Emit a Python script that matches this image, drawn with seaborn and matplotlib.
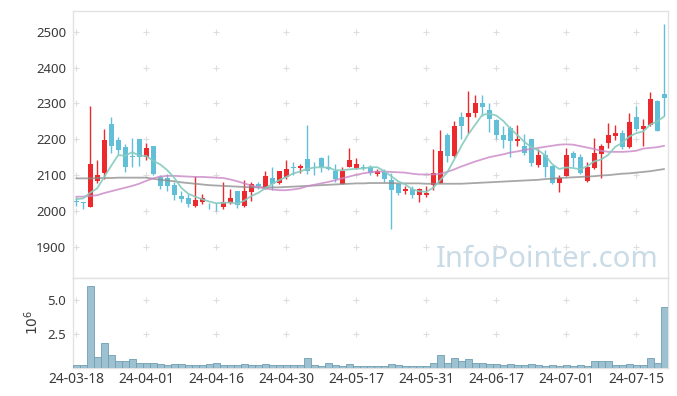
import matplotlib
matplotlib.use("Agg")
import matplotlib.pyplot as plt
import seaborn as sns
import numpy as np
import pandas as pd

# daily candles (trading-day index 0..84)
opens = [2027, 2025, 2010, 2085, 2105, 2242, 2198, 2178, 2153, 2200,
         2150, 2181, 2095, 2092, 2072, 2042, 2036, 2015, 2024, 2015,
         2011, 2010, 2021, 2056, 2015, 2054, 2075, 2060, 2092, 2079,
         2094, 2123, 2120, 2146, 2132, 2147, 2122, 2111, 2074, 2123,
         2120, 2123, 2122, 2104, 2110, 2086, 2076, 2055, 2061, 2045,
         2045, 2072, 2079, 2212, 2154, 2263, 2261, 2272, 2302, 2281,
         2255, 2212, 2232, 2196, 2182, 2200, 2128, 2156, 2125, 2079,
         2097, 2162, 2150, 2084, 2121, 2160, 2190, 2210, 2218, 2179,
         2263, 2228, 2241, 2306, 2326]
closes = [2024, 2021, 2130, 2100, 2198, 2180, 2171, 2122, 2150, 2150,
          2175, 2104, 2071, 2071, 2045, 2034, 2020, 2030, 2035, 2013,
          2010, 2025, 2036, 2016, 2056, 2074, 2070, 2099, 2076, 2111,
          2117, 2121, 2126, 2112, 2130, 2122, 2116, 2089, 2111, 2142,
          2131, 2121, 2105, 2112, 2089, 2059, 2049, 2062, 2045, 2060,
          2051, 2106, 2167, 2154, 2237, 2236, 2273, 2302, 2291, 2256,
          2211, 2198, 2195, 2202, 2161, 2135, 2156, 2123, 2079, 2093,
          2156, 2148, 2105, 2122, 2161, 2182, 2212, 2218, 2178, 2248,
          2229, 2237, 2312, 2224, 2316]
highs = [2040, 2026, 2292, 2141, 2230, 2262, 2206, 2186, 2205, 2200,
         2191, 2181, 2100, 2103, 2082, 2056, 2046, 2099, 2048, 2023,
         2022, 2080, 2061, 2056, 2086, 2082, 2081, 2111, 2122, 2112,
         2141, 2137, 2131, 2241, 2137, 2152, 2156, 2131, 2124, 2175,
         2149, 2130, 2127, 2117, 2116, 2105, 2078, 2070, 2070, 2065,
         2071, 2172, 2226, 2218, 2250, 2275, 2336, 2323, 2325, 2300,
         2258, 2236, 2236, 2241, 2215, 2201, 2172, 2170, 2128, 2100,
         2175, 2168, 2160, 2137, 2205, 2187, 2246, 2240, 2225, 2272,
         2292, 2257, 2331, 2311, 2523]
lows = [2015, 2005, 2010, 2079, 2088, 2161, 2160, 2110, 2122, 2125,
        2141, 2100, 2060, 2055, 2030, 2026, 2012, 2012, 2020, 2005,
        2000, 2005, 2019, 2007, 2012, 2027, 2062, 2060, 2058, 2075,
        2088, 2100, 2105, 2103, 2100, 2110, 2114, 2080, 2074, 2123,
        2118, 2114, 2100, 2098, 2082, 1949, 2044, 2046, 2035, 2025,
        2038, 2058, 2079, 2136, 2150, 2202, 2217, 2261, 2266, 2221,
        2200, 2175, 2151, 2180, 2156, 2125, 2122, 2096, 2074, 2054,
        2097, 2124, 2104, 2080, 2118, 2091, 2177, 2198, 2172, 2175,
        2223, 2182, 2238, 2224, 2265]
# volume in millions of shares
volumes = [0.22, 0.22, 6.0, 0.8, 1.82, 0.95, 0.46, 0.46, 0.6, 0.36,
           0.36, 0.36, 0.29, 0.22, 0.29, 0.29, 0.22, 0.22, 0.22, 0.29,
           0.36, 0.22, 0.15, 0.22, 0.29, 0.15, 0.15, 0.29, 0.22, 0.22,
           0.15, 0.15, 0.15, 0.73, 0.22, 0.12, 0.36, 0.22, 0.12, 0.29,
           0.12, 0.12, 0.12, 0.12, 0.12, 0.29, 0.22, 0.12, 0.12, 0.12,
           0.12, 0.36, 0.95, 0.36, 0.73, 0.46, 0.6, 0.36, 0.36, 0.29,
           0.29, 0.22, 0.29, 0.22, 0.22, 0.29, 0.22, 0.12, 0.22, 0.12,
           0.22, 0.12, 0.22, 0.12, 0.46, 0.46, 0.46, 0.22, 0.22, 0.29,
           0.22, 0.22, 0.73, 0.36, 4.45]
# closes of the four sessions before the window (for the 5-day average)
prev_closes = [2011, 2050, 2040, 2040]
ma20 = [2040, 2040, 2042, 2044, 2050, 2055, 2060, 2065, 2070, 2076,
        2084, 2091, 2096, 2098, 2098, 2097, 2096, 2095, 2095, 2094,
        2093, 2092, 2088, 2083, 2077, 2071, 2067, 2063, 2060, 2058,
        2058, 2060, 2063, 2069, 2073, 2077, 2081, 2086, 2091, 2096,
        2101, 2105, 2108, 2110, 2110, 2109, 2108, 2107, 2104, 2102,
        2102, 2102, 2104, 2109, 2116, 2124, 2131, 2138, 2144, 2150,
        2154, 2158, 2163, 2166, 2170, 2173, 2176, 2179, 2182, 2185,
        2186, 2185, 2181, 2177, 2173, 2168, 2165, 2165, 2165, 2166,
        2168, 2174, 2176, 2178, 2182]
ma60 = [2091, 2091, 2091, 2092, 2092, 2092, 2093, 2093, 2093, 2093,
        2093, 2090, 2087, 2085, 2083, 2080, 2078, 2076, 2074, 2072,
        2071, 2070, 2069, 2068, 2067, 2066, 2066, 2066, 2066, 2066,
        2067, 2068, 2069, 2070, 2071, 2072, 2073, 2074, 2075, 2076,
        2077, 2077, 2078, 2078, 2078, 2078, 2077, 2077, 2077, 2077,
        2076, 2076, 2076, 2076, 2076, 2076, 2077, 2078, 2079, 2080,
        2081, 2082, 2083, 2084, 2085, 2086, 2087, 2089, 2090, 2092,
        2093, 2094, 2095, 2096, 2097, 2099, 2100, 2102, 2104, 2105,
        2107, 2109, 2111, 2114, 2117]
tick_bars = [0, 10, 20, 30, 40, 50, 60, 70, 80]
tick_labels = ["24-03-18", "24-04-01", "24-04-16", "24-04-30", "24-05-17",
               "24-05-31", "24-06-17", "24-07-01", "24-07-15"]
price_ticks = [1900, 2000, 2100, 2200, 2300, 2400, 2500]
vol_ticks = [2.5, 5.0]

df = pd.DataFrame({"open": opens, "high": highs, "low": lows,
                   "close": closes, "volume": volumes,
                   "ma20": ma20, "ma60": ma60})
df["i"] = np.arange(len(df))
df["ma5"] = pd.Series(prev_closes + closes).rolling(5).mean().iloc[len(prev_closes):].values

sns.set_style("white")
plt.rcParams['font.family'] = ['Noto Sans', 'DejaVu Sans']

UP = "#ec2a2e"
DOWN = "#62bfd8"
GRIDC = "#dedede"
SPINE = "#e2e2e2"
TXT = "#3a3a3a"

W, H = 677, 396
fig = plt.figure(figsize=(W / 100, H / 100), dpi=100)
ax = fig.add_axes([73 / W, 1 - 278 / H, 595 / W, 267 / H])
axv = fig.add_axes([73 / W, 1 - 367.5 / H, 595 / W, 89.5 / H], sharex=ax)

# --- candles ---
for _, r in df.iterrows():
    col = UP if r["close"] >= r["open"] else DOWN
    ax.vlines(r["i"], r["low"], r["high"], color=col, lw=1, zorder=2)
    lo = min(r["open"], r["close"])
    h = max(abs(r["close"] - r["open"]), 2)
    ax.bar(r["i"], h, bottom=lo, width=0.7, color=col, lw=0, zorder=3)

# --- moving averages ---
sns.lineplot(data=df, x="i", y="ma60", ax=ax, color="#8a8a8a", lw=1.3, alpha=0.75, zorder=4)
sns.lineplot(data=df, x="i", y="ma20", ax=ax, color="#c987c6", lw=1.3, alpha=0.8, zorder=4)
sns.lineplot(data=df, x="i", y="ma5", ax=ax, color="#86cbbf", lw=1.3, alpha=0.9, zorder=4)

# --- volume ---
axv.bar(df["i"], df["volume"], width=1.0, color="#9dc1d1", edgecolor="#6f9fb3", lw=0.6, zorder=3)

# plus-shaped grid markers at tick crossings
gx, gy = np.meshgrid(tick_bars, price_ticks)
ax.scatter(gx.ravel(), gy.ravel(), marker="+", s=14, c=GRIDC, lw=0.8, zorder=1)
gx, gy = np.meshgrid(tick_bars, vol_ticks)
axv.scatter(gx.ravel(), gy.ravel(), marker="+", s=14, c=GRIDC, lw=0.8, zorder=1)

ax.set_xlim(-0.45, 84.55)
ax.set_ylim(1813, 2558)
axv.set_ylim(0, 6.6)

ax.set_yticks(price_ticks)
ax.set_yticklabels([str(v) for v in price_ticks])
axv.set_yticks(vol_ticks)
axv.set_yticklabels([f"{v:.1f}" for v in vol_ticks])
axv.set_xticks(tick_bars)
axv.set_xticklabels(tick_labels)
ax.tick_params(axis="x", labelbottom=False)

for a in (ax, axv):
    a.tick_params(length=0, labelsize=9.5, colors=TXT, pad=5)
    a.set_xlabel("")
    a.set_ylabel("")
    for s in a.spines.values():
        s.set_color(SPINE)
        s.set_linewidth(1)
axv.tick_params(axis="x", pad=3, labelsize=10)

axv.set_ylabel("$10^6$", fontsize=10, color=TXT, labelpad=4)

ax.text(0.985, 0.042, "InfoPointer.com", transform=ax.transAxes,
        ha="right", va="baseline", fontsize=21, color="#c9dbe6", zorder=0)

fig.savefig("out.png", dpi=100)
